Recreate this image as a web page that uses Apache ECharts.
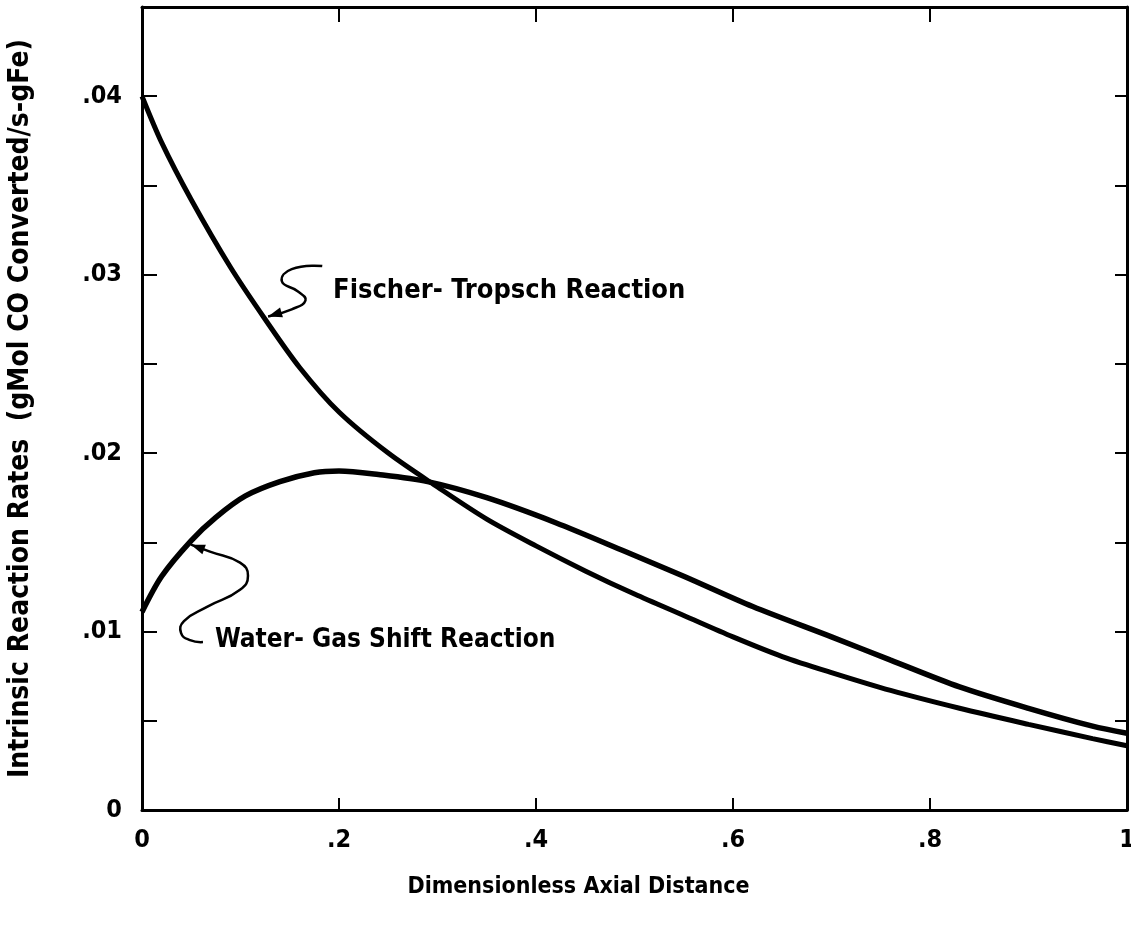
<!DOCTYPE html>
<html>
<head>
<meta charset="utf-8">
<script src="https://cdn.jsdelivr.net/npm/echarts@6/dist/echarts.min.js"></script>
<style>
  html, body { margin: 0; padding: 0; background: #fff; }
  #chart { width: 1131px; height: 932px; }
</style>
</head>
<body>
<div id="chart"></div>
<script>
// Fischer-Tropsch curve
const ftX = [0, 0.02, 0.05, 0.09, 0.125, 0.16, 0.2, 0.25, 0.3, 0.35, 0.4, 0.45, 0.5, 0.55, 0.6, 0.65, 0.7, 0.76, 0.83, 0.9, 0.965, 1.0];
const ftY = [0.0400, 0.0374, 0.0342, 0.0304, 0.0275, 0.0248, 0.0223, 0.0200, 0.0181, 0.0163, 0.0148, 0.0134, 0.0121, 0.0109, 0.0097, 0.0086, 0.0077, 0.0067, 0.0057, 0.0048, 0.0040, 0.0036];

// Water-Gas Shift curve
const wgsX = [0, 0.02, 0.05, 0.075, 0.105, 0.14, 0.175, 0.2, 0.24, 0.29, 0.35, 0.42, 0.49, 0.55, 0.62, 0.7, 0.76, 0.83, 0.9, 0.965, 1.0];
const wgsY = [0.0111, 0.0131, 0.0151, 0.0164, 0.0176, 0.0184, 0.0189, 0.0190, 0.0188, 0.0184, 0.0175, 0.0161, 0.0145, 0.0131, 0.0114, 0.0097, 0.0084, 0.0069, 0.0057, 0.0047, 0.0043];

// labels
const xTitle = 'Dimensionless Axial Distance';
const yTitle = 'Intrinsic Reaction Rates  (gMol CO Converted/s-gFe)';
const ftLabel = 'Fischer- Tropsch Reaction';
const wgsLabel = 'Water- Gas Shift Reaction';

// leader lines (data coords), last point is the arrow tip
const ftLeader = [[0.183, 0.03048], [0.152, 0.03031], [0.142, 0.02963], [0.158, 0.02907], [0.166, 0.02856], [0.152, 0.02806], [0.128, 0.02766]];
const wgsLeader = [[0.0619, 0.00941], [0.0487, 0.00952], [0.0396, 0.00992], [0.0426, 0.01059], [0.066, 0.01138], [0.0995, 0.01234], [0.1076, 0.01313], [0.0995, 0.01386], [0.069, 0.01448], [0.0497, 0.01487]];

const FONT = "'DejaVu Sans Condensed', 'DejaVu Sans', sans-serif";

const zip = (xs, ys) => xs.map((x, i) => [x, ys[i]]);

const xFmt = v => (v === 0 ? '0' : v === 1 ? '1' : '.' + Math.round(v * 10));
const yFmt = v => {
  const m = Math.round(v * 1000);
  if (m === 0) return '0';
  if (m % 10 !== 0) return '';
  return '.0' + (m / 10);
};

const myChart = echarts.init(document.getElementById('chart'));

const axisLine = { show: true, onZero: false, lineStyle: { color: '#000', width: 3 } };
const tick = len => ({ show: true, inside: true, length: len, lineStyle: { color: '#000', width: 2 } });

myChart.setOption({
  animation: false,
  grid: { left: 142, right: 4, top: 7, bottom: 122, outerBoundsMode: 'none' },
  xAxis: [
    {
      type: 'value', min: 0, max: 1, interval: 0.2,
      axisLine: axisLine, axisTick: tick(12),
      splitLine: { show: false },
      axisLabel: { formatter: xFmt, margin: 18, color: '#000', fontSize: 25, fontFamily: FONT, fontWeight: 'bold' },
      name: xTitle, nameLocation: 'middle', nameGap: 66,
      nameTextStyle: { color: '#000', fontSize: 23, fontFamily: FONT, fontWeight: 'bold', padding: [0, 112, 0, 0] }
    },
    {
      type: 'value', position: 'top', min: 0, max: 1, interval: 0.2,
      axisLine: axisLine, axisTick: tick(15),
      axisLabel: { show: false }, splitLine: { show: false }
    }
  ],
  yAxis: [
    {
      type: 'value', min: 0, max: 0.045, interval: 0.005,
      axisLine: axisLine, axisTick: tick(15),
      splitLine: { show: false },
      axisLabel: { formatter: yFmt, margin: 20, color: '#000', fontSize: 25, fontFamily: FONT, fontWeight: 'bold' },
      name: yTitle, nameLocation: 'middle', nameGap: 107, nameRotate: 90,
      nameTextStyle: { color: '#000', fontSize: 28, fontFamily: FONT, fontWeight: 'bold' }
    },
    {
      type: 'value', position: 'right', min: 0, max: 0.045, interval: 0.005,
      axisLine: axisLine, axisTick: tick(12),
      axisLabel: { show: false }, splitLine: { show: false }
    }
  ],
  series: [
    {
      name: 'Fischer-Tropsch', type: 'line', smooth: 0.3, showSymbol: false,
      data: zip(ftX, ftY),
      lineStyle: { color: '#000', width: 5 }
    },
    {
      name: 'Water-Gas Shift', type: 'line', smooth: 0.3, showSymbol: false,
      data: zip(wgsX, wgsY),
      lineStyle: { color: '#000', width: 5.5 }
    }
  ]
});

// annotations placed through the chart's own scales
const toPx = p => myChart.convertToPixel({ gridIndex: 0 }, p);

const arrowHead = pts => {
  const tip = pts[pts.length - 1];
  const prev = pts[pts.length - 2];
  const dx = tip[0] - prev[0], dy = tip[1] - prev[1];
  const len = Math.sqrt(dx * dx + dy * dy) || 1;
  const ux = dx / len, uy = dy / len;
  const L = 14, W = 5;
  const bx = tip[0] - ux * L, by = tip[1] - uy * L;
  return [tip, [bx - uy * W, by + ux * W], [bx + uy * W, by - ux * W]];
};

const leaderGraphic = leader => {
  const pts = leader.map(toPx);
  return [
    { type: 'polyline', shape: { points: pts, smooth: 0.5 }, style: { stroke: '#000', lineWidth: 2.5, fill: null } },
    { type: 'polygon', shape: { points: arrowHead(pts) }, style: { fill: '#000' } }
  ];
};

const ftPos = toPx([0.194, 0.0291]);
const wgsPos = toPx([0.074, 0.0095]);

myChart.setOption({
  graphic: [
    ...leaderGraphic(ftLeader),
    ...leaderGraphic(wgsLeader),
    {
      type: 'text', x: ftPos[0], y: ftPos[1],
      style: { text: ftLabel, fill: '#000', font: 'bold 27px ' + FONT, verticalAlign: 'middle' }
    },
    {
      type: 'text', x: wgsPos[0], y: wgsPos[1],
      style: { text: wgsLabel, fill: '#000', font: 'bold 26px ' + FONT, verticalAlign: 'middle' }
    }
  ]
});
</script>
</body>
</html>
